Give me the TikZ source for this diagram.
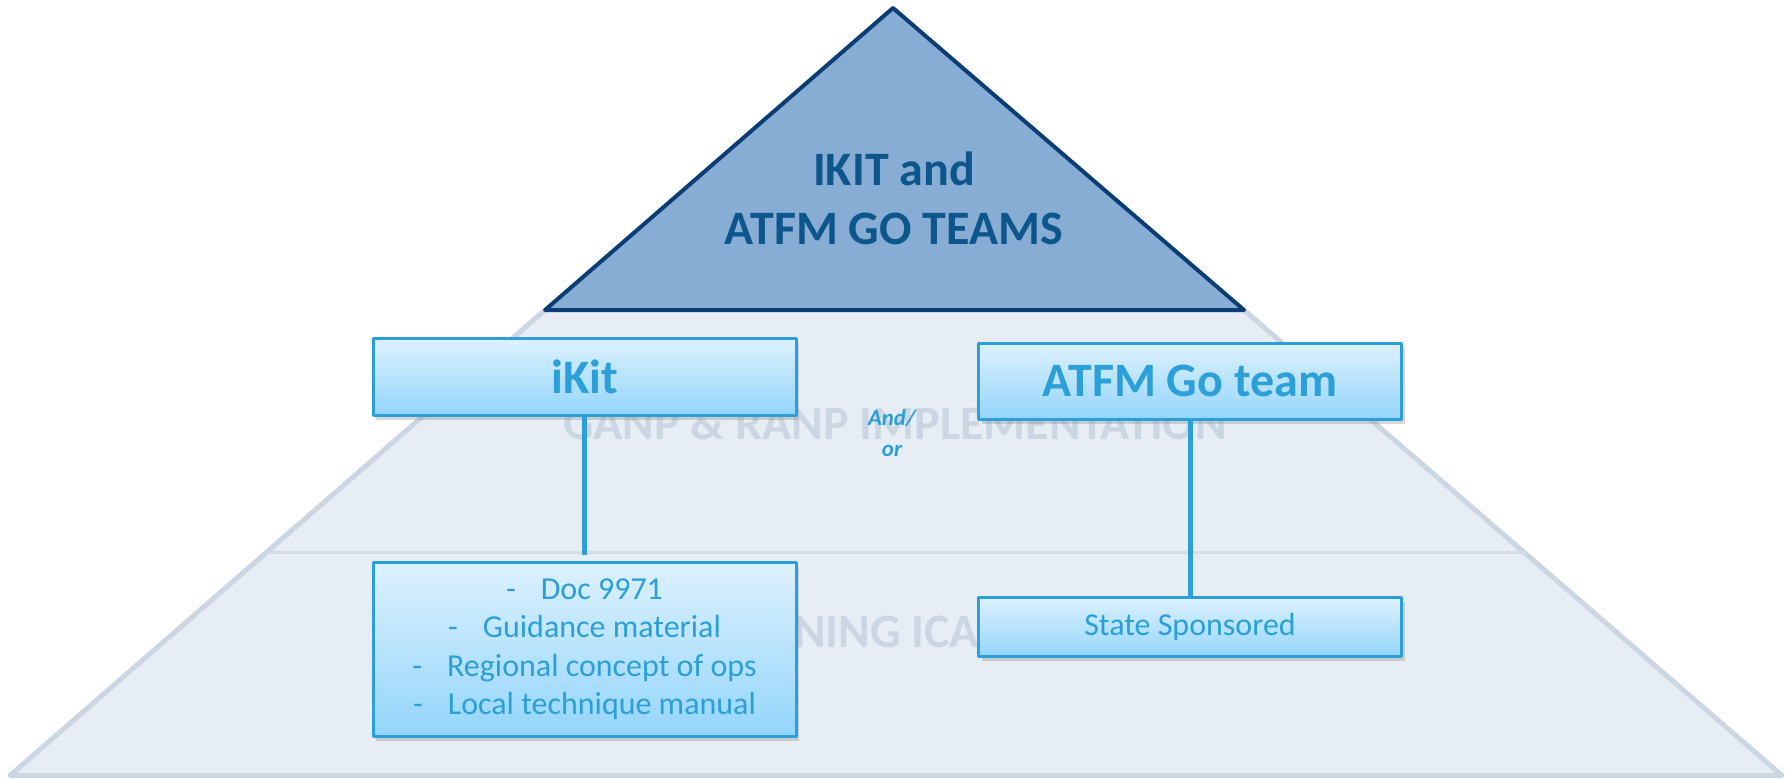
\documentclass[tikz,border=0pt]{standalone}
\usepackage{fontspec}
\setmainfont{Carlito}
\usepackage{tikz}
\usetikzlibrary{shadows}
\definecolor{navy}{RGB}{11,61,117}
\definecolor{peak}{RGB}{136,173,212}
\definecolor{base}{RGB}{230,237,245}
\definecolor{rim}{RGB}{204,214,226}
\definecolor{ghost}{RGB}{203,214,226}
\definecolor{sky}{RGB}{42,159,216}
\definecolor{skytop}{RGB}{221,241,253}
\definecolor{skybot}{RGB}{148,213,251}
\definecolor{deep}{RGB}{12,86,140}

\begin{document}
\begin{tikzpicture}[line join=round,
  box/.style={draw=sky, line width=0.03cm, top color=skytop, bottom color=skybot,
    minimum width=4.23cm, inner sep=0pt, text=sky,
    drop shadow={shadow xshift=0.03cm, shadow yshift=-0.05cm, opacity=0.3}},
  big/.style={font=\fontsize{13.66pt}{16.8pt}\selectfont\bfseries},
  small/.style={font=\fontsize{9.1pt}{10.95pt}\selectfont},
  link/.style={draw=sky, line width=0.05cm}]
  \useasboundingbox (0,0) rectangle (17.91,7.78);
  \fill[white] (0,0) rectangle (17.91,7.78);
  % base of the pyramid
  \fill[base] (0.10,0.025) -- (5.45,4.68) -- (12.44,4.68) -- (17.82,0.025) -- cycle;
  \draw[rim, line width=0.05cm] (5.45,4.68) -- (0.10,0.025) -- (17.82,0.025) -- (12.44,4.68);
  \draw[rim!85, line width=0.03cm] (2.675,2.26) -- (15.245,2.26);
  \node [big, text=ghost] (g1) at (8.95,3.55) {GANP \& RANP IMPLEMENTATION};
  \node [big, text=ghost] (g2) at (8.865,1.46) {NING ICA};
  % top of the pyramid
  \draw[navy, line width=0.04cm, fill=peak] (8.93,7.70) -- (12.44,4.68) -- (5.45,4.68) -- cycle;
  \node [big, text=deep, align=center] (top) at (8.94,5.80) {IKIT and\\ATFM GO TEAMS};
  % boxes
  \node [box, big, minimum height=0.77cm] (ik) at (5.845,4.015) {iKit};
  \node [box, big, minimum height=0.76cm] (go) at (11.90,3.97) {ATFM Go team};
  \node [box, small, align=center, minimum height=1.74cm] (doc) at (5.845,1.29)
    {-\hspace{0.25cm}Doc 9971\\-\hspace{0.25cm}Guidance material\\
     -\hspace{0.25cm}Regional concept of ops\\-\hspace{0.25cm}Local technique manual};
  \node [box, small, minimum height=0.59cm] (st) at (11.90,1.515) {State Sponsored};
  \path [link, shorten >=0.06cm] (ik) -- (doc);
  \path [link] (go) -- (st);
  \node [text=sky, align=center, font=\fontsize{6.5pt}{8.8pt}\selectfont\bfseries\itshape] (or) at (8.92,3.45) {And/\\or};
\end{tikzpicture}
\end{document}
